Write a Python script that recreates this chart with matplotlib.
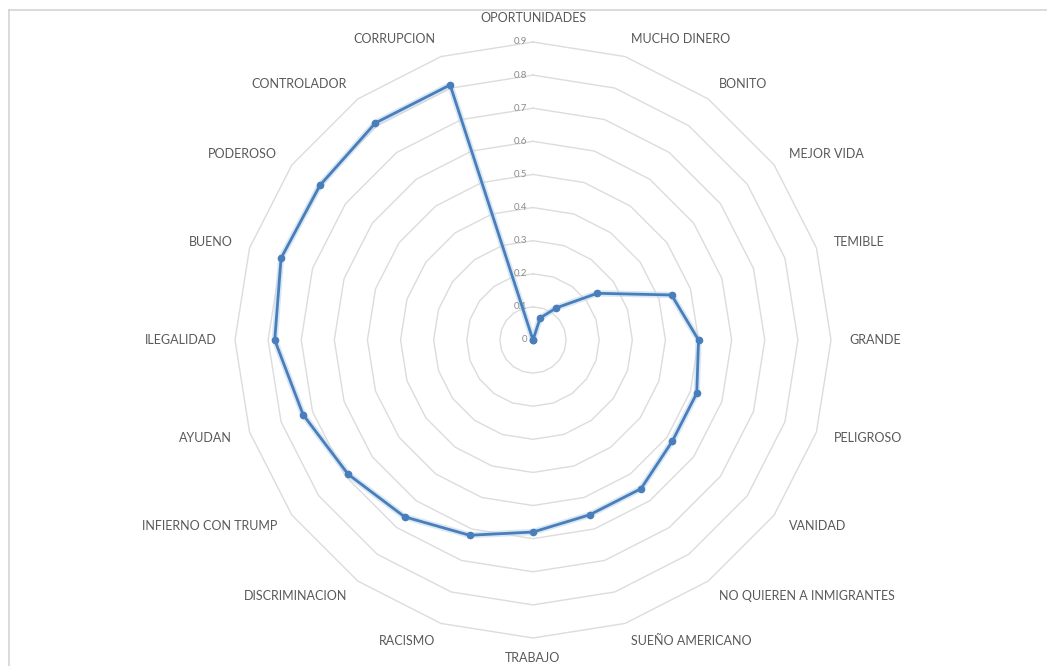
import numpy as np
import matplotlib
matplotlib.use("Agg")
import matplotlib.pyplot as plt
from matplotlib.lines import Line2D

categories = [
    "OPORTUNIDADES", "MUCHO DINERO", "BONITO", "MEJOR VIDA", "TEMIBLE",
    "GRANDE", "PELIGROSO", "VANIDAD", "NO QUIEREN A INMIGRANTES",
    "SUEÑO AMERICANO", "TRABAJO", "RACISMO", "DISCRIMINACION",
    "INFIERNO CON TRUMP", "AYUDAN", "ILEGALIDAD", "BUENO", "PODEROSO",
    "CONTROLADOR", "CORRUPCION",
]
values = [0.0, 0.07, 0.12, 0.24, 0.44, 0.50, 0.52, 0.52, 0.555, 0.555,
          0.58, 0.62, 0.66, 0.69, 0.73, 0.78, 0.80, 0.795, 0.81, 0.81]
ring_levels = [0.1, 0.2, 0.3, 0.4, 0.5, 0.6, 0.7, 0.8, 0.9]
ring_labels = ["0", "0.1", "0.2", "0.3", "0.4", "0.5", "0.6", "0.7", "0.8", "0.9"]

plt.rcParams["font.family"] = ["Lato", "DejaVu Sans"]
TEXT = "#595959"
GRID = "#DCDCDC"
LINE = "#4A7EBB"

W, H = 1047, 666
fig = plt.figure(figsize=(W / 100, H / 100), dpi=100)
fig.patch.set_facecolor("white")

# chart frame (top and left edges visible)
fig.add_artist(Line2D([9 / W, 9 / W], [0, 1 - 9.5 / H], transform=fig.transFigure,
                      color="#D4D4D4", lw=1.2))
fig.add_artist(Line2D([9 / W, 1], [1 - 9.5 / H, 1 - 9.5 / H], transform=fig.transFigure,
                      color="#D4D4D4", lw=1.2))

cx, cy, R = 533, 340, 298
ax = fig.add_axes([(cx - R) / W, (H - cy - R) / H, 2 * R / W, 2 * R / H],
                  projection="polar")
ax.set_theta_zero_location("N")
ax.set_theta_direction(-1)
ax.set_ylim(0, 0.9)
ax.set_axis_off()

n = len(categories)
theta = np.arange(n) * 2 * np.pi / n
theta_closed = np.append(theta, theta[0])

# polygonal gridlines
for r in ring_levels:
    ax.plot(theta_closed, [r] * (n + 1), color=GRID, lw=1.0, zorder=1,
            clip_on=False)

# radial value labels along the top spoke
for r, lab in zip([0.0] + ring_levels, ring_labels):
    ax.annotate(lab, xy=(0, r), xytext=(-4, 0), textcoords="offset points",
                ha="right", va="center", fontsize=7, color="#8C8C8C",
                annotation_clip=False)

# category labels around the outside
r_lab = 0.955
for t, name in zip(theta, categories):
    s, c = np.sin(t), np.cos(t)
    if abs(s) < 1e-6 and c < 0:
        # bottom label sits just inside the lower edge of the figure
        ax.annotate(name, xy=(t, 0.9), xytext=(0, -19), textcoords="offset points",
                    ha="center", va="bottom", fontsize=9, color=TEXT,
                    annotation_clip=False)
        continue
    if abs(s) < 1e-6:
        ha, va = "center", "bottom"
    else:
        ha = "left" if s > 0 else "right"
        va = "center"
    ax.text(t, r_lab, name, ha=ha, va=va, fontsize=9, color=TEXT,
            clip_on=False)

# data series
vals_closed = values + values[:1]
ax.plot(theta_closed, vals_closed, color="#BDD7EE", lw=4.5, alpha=0.6,
        zorder=2, clip_on=False)
ax.plot(theta_closed, vals_closed, color=LINE, lw=2, marker="o", ms=4.5,
        markerfacecolor=LINE, markeredgecolor=LINE, zorder=3, clip_on=False)

fig.savefig("out.png", dpi=100, facecolor="white")
